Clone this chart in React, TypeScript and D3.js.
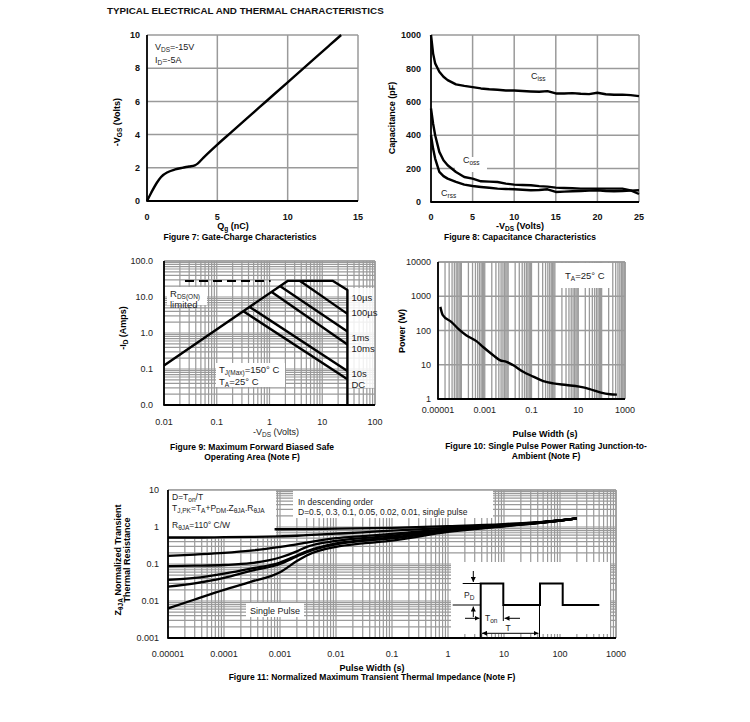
import React from "react";
import * as d3 from "d3";

const FONT = "'Liberation Sans', Arial, Helvetica, sans-serif";
const GRID = "#9a9a9a";

// ---------- Figure 7: gate charge ----------
const qgValues = [0, 0.3, 0.7, 1, 1.5, 2, 2.5, 3, 3.4, 3.6, 4, 5, 6, 7, 8, 9, 10, 11, 12, 13, 13.8];
const vgsValues = [0, 0.5, 1.1, 1.45, 1.75, 1.9, 2.0, 2.08, 2.15, 2.25, 2.6, 3.4, 4.15, 4.9, 5.65, 6.4, 7.15, 7.9, 8.65, 9.4, 10];
const f7XTicks = [0, 5, 10, 15];
const f7YTicks = [0, 2, 4, 6, 8, 10];

// ---------- Figure 8: capacitance ----------
const vdsCap = [0, 0.25, 0.5, 1, 1.5, 2, 3, 4, 5, 6, 7, 8, 9, 10, 11, 12, 13, 14, 15, 16, 17, 18, 19, 20, 21, 22, 23, 24, 25];
const cissValues = [1000, 890, 830, 780, 750, 730, 704, 695, 688, 680, 675, 672, 668, 668, 665, 662, 660, 664, 650, 650, 652, 648, 646, 654, 645, 642, 643, 640, 634];
const cossValues = [560, 470, 400, 300, 250, 220, 180, 150, 140, 124, 122, 120, 110, 104, 102, 100, 95, 92, 86, 84, 82, 80, 80, 80, 80, 80, 80, 70, 48];
const crssValues = [400, 320, 260, 180, 155, 140, 120, 104, 96, 90, 85, 80, 78, 76, 73, 70, 72, 76, 60, 62, 64, 66, 68, 70, 66, 64, 66, 68, 70];
const f8XTicks = [0, 5, 10, 15, 20, 25];
const f8YTicks = [0, 200, 400, 600, 800, 1000];

// ---------- Figure 9: SOA ----------
const soaBoundV = [0.01, 2.2, 16, 30, 30];
const soaBoundI = [0.126, 28, 28, 15.6, 0.01];
const soaDashV = [0.025, 1.05];
const soaDashI = [28, 28];
const soa100usV = [3.8, 30];
const soa100usI = [28, 3.4];
const soa1msV = [1.6, 30];
const soa1msI = [20, 1.1];
const soa10msV = [1.1, 30];
const soa10msI = [13.8, 0.48];
const soa10sV = [0.42, 30];
const soa10sI = [5.3, 0.088];
const soaDcV = [0.32, 30];
const soaDcI = [4.0, 0.052];
const soaLabels = ["10\u00b5s", "100\u00b5s", "1ms", "10ms", "10s", "DC"];
const soaLabelI = [10, 3.8, 0.77, 0.36, 0.077, 0.038];
const f9XTicks = [0.01, 0.1, 1, 10, 100];
const f9XTickLabels = ["0.01", "0.1", "1", "10", "100"];
const f9YTicks = [100, 10, 1, 0.1, 0.01];
const f9YTickLabels = ["100.0", "10.0", "1.0", "0.1", "0.0"];

// ---------- Figure 10: single pulse power ----------
const pulseWidthP = [1.26e-5, 1.6e-5, 3.7e-5, 7.2e-5, 1.6e-4, 4.4e-4, 8.5e-4, 2.3e-3, 4.4e-3, 8.5e-3, 1.6e-2, 4.4e-2, 0.12, 0.32, 0.85, 3.1, 11, 31, 85, 230, 450];
const powerW = [490, 280, 179, 114, 73, 49, 33, 19, 13.7, 12.2, 9.8, 6.25, 4.5, 3.34, 2.86, 2.56, 2.29, 1.95, 1.56, 1.37, 1.34];
const f10XTicks = [1e-5, 1e-3, 0.1, 10, 1000];
const f10XTickLabels = ["0.00001", "0.001", "0.1", "10", "1000"];
const f10YTicks = [1, 10, 100, 1000, 10000];

// ---------- Figure 11: transient thermal impedance ----------
const zthX = [1e-5, 3e-5, 1e-4, 3e-4, 1e-3, 2e-3, 3e-3, 0.01, 0.03, 0.1, 1, 10, 100, 200];
const zthD2 = [0.52, 0.52, 0.53, 0.54, 0.56, 0.58, 0.6, 0.66, 0.72, 0.8, 0.95, 1.15, 1.5, 1.72];
const zthD3 = [0.165, 0.18, 0.2, 0.23, 0.29, 0.34, 0.38, 0.5, 0.57, 0.65, 0.88, 1.12, 1.5, 1.72];
const zthD4 = [0.088, 0.09, 0.094, 0.105, 0.15, 0.22, 0.29, 0.42, 0.5, 0.58, 0.84, 1.1, 1.5, 1.72];
const zthD5 = [0.037, 0.042, 0.055, 0.075, 0.11, 0.17, 0.22, 0.36, 0.44, 0.52, 0.8, 1.08, 1.5, 1.72];
const zthD6 = [0.0244, 0.03, 0.042, 0.065, 0.1, 0.16, 0.21, 0.34, 0.42, 0.49, 0.78, 1.06, 1.5, 1.72];
const zthSingle = [0.0063, 0.011, 0.02, 0.033, 0.06, 0.12, 0.17, 0.29, 0.36, 0.43, 0.74, 1.04, 1.5, 1.72];
const zthTopX = [8e-4, 3e-3, 0.01, 0.1, 1, 10, 100, 200];
const zthTop = [0.87, 0.88, 0.9, 0.95, 1.05, 1.2, 1.52, 1.72];
const f11XTicks = [1e-5, 1e-4, 1e-3, 0.01, 0.1, 1, 10, 100, 1000];
const f11XTickLabels = ["0.00001", "0.0001", "0.001", "0.01", "0.1", "1", "10", "100", "1000"];
const f11YTicks = [10, 1, 0.1, 0.01, 0.001];
const f11YTickLabels = ["10", "1", "0.1", "0.01", "0.001"];

function logMinor(lo: number, hi: number): number[] {
  const out: number[] = [];
  const e0 = Math.round(Math.log10(lo));
  const e1 = Math.round(Math.log10(hi));
  for (let e = e0; e < e1; e++) {
    for (let k = 1; k < 10; k++) out.push(k * Math.pow(10, e));
  }
  out.push(hi);
  return out;
}

type Sc = (v: number) => number;

function pathOf(xs: Sc, ys: Sc, xv: number[], yv: number[], smooth = false): string {
  const gen = d3
    .line<[number, number]>()
    .x((d) => xs(d[0]))
    .y((d) => ys(d[1]));
  if (smooth) gen.curve(d3.curveMonotoneX);
  return gen(d3.zip(xv, yv) as [number, number][]) || "";
}

// parts: plain strings are normal text, one-element arrays are subscripts
function rich(parts: (string | string[])[], size = 6.5) {
  let inSub = false;
  return parts.map((p, i) => {
    if (Array.isArray(p)) {
      const el = (
        <tspan key={i} dy={inSub ? 0 : 2} fontSize={size}>
          {p[0]}
        </tspan>
      );
      inSub = true;
      return el;
    }
    const el = (
      <tspan key={i} dy={inSub ? -2 : 0}>
        {p}
      </tspan>
    );
    inSub = false;
    return el;
  });
}

function Frame({ x0, x1, y0, y1 }: { x0: number; x1: number; y0: number; y1: number }) {
  return (
    <g>
      <line x1={x0} x2={x1} y1={y0} y2={y0} stroke={GRID} strokeWidth={1.5} />
      <line x1={x1} x2={x1} y1={y0} y2={y1} stroke={GRID} strokeWidth={1.5} />
      <line x1={x0} x2={x0} y1={y0} y2={y1 + 0.5} stroke="#000" strokeWidth={1.8} />
      <line x1={x0 - 0.5} x2={x1} y1={y1} y2={y1} stroke="#000" strokeWidth={1.8} />
    </g>
  );
}

function Fig7() {
  const xs = d3.scaleLinear().domain([0, 15]).range([147, 358]);
  const ys = d3.scaleLinear().domain([0, 10]).range([201, 35]);
  return (
    <g>
      {f7XTicks.slice(1, -1).map((t) => (
        <line key={"gx" + t} x1={xs(t)} x2={xs(t)} y1={ys(10)} y2={ys(0)} stroke={GRID} strokeWidth={1.5} />
      ))}
      {f7YTicks.slice(1, -1).map((t) => (
        <line key={"gy" + t} x1={xs(0)} x2={xs(15)} y1={ys(t)} y2={ys(t)} stroke={GRID} strokeWidth={1.5} />
      ))}
      <Frame x0={xs(0)} x1={xs(15)} y0={ys(10)} y1={ys(0)} />
      <path d={pathOf(xs, ys, qgValues, vgsValues, true)} fill="none" stroke="#000" strokeWidth={2.4} />
      <g fontSize={9} fontWeight="bold" fill="#111">
        {f7XTicks.map((t) => (
          <text key={"tx" + t} x={xs(t)} y={219.5} textAnchor="middle">{t}</text>
        ))}
        {f7YTicks.map((t) => (
          <text key={"ty" + t} x={140} y={ys(t) + 3.2} textAnchor="end">{t}</text>
        ))}
      </g>
      <text x={155} y={50} fontSize={9} fill="#222">{rich(["V", ["DS"], "=-15V"])}</text>
      <text x={155} y={63} fontSize={9} fill="#222">{rich(["I", ["D"], "=-5A"])}</text>
      <text x={233} y={228.5} fontSize={9} fontWeight="bold" textAnchor="middle">{rich(["Q", ["g"], " (nC)"])}</text>
      <text transform="translate(120,122) rotate(-90)" fontSize={9} fontWeight="bold" textAnchor="middle">{rich(["-V", ["GS"], " (Volts)"])}</text>
      <text x={240} y={239.5} fontSize={8.5} fontWeight="bold" textAnchor="middle">Figure 7: Gate-Charge Characteristics</text>
    </g>
  );
}

function Fig8() {
  const xs = d3.scaleLinear().domain([0, 25]).range([431, 639]);
  const ys = d3.scaleLinear().domain([0, 1000]).range([202, 35]);
  return (
    <g>
      {f8XTicks.slice(1, -1).map((t) => (
        <line key={"gx" + t} x1={xs(t)} x2={xs(t)} y1={ys(1000)} y2={ys(0)} stroke={GRID} strokeWidth={1.5} />
      ))}
      {f8YTicks.slice(1, -1).map((t) => (
        <line key={"gy" + t} x1={xs(0)} x2={xs(25)} y1={ys(t)} y2={ys(t)} stroke={GRID} strokeWidth={1.5} />
      ))}
      <rect x={455} y={157} width={32} height={15} fill="#fff" />
      <Frame x0={xs(0)} x1={xs(25)} y0={ys(1000)} y1={ys(0)} />
      <path d={pathOf(xs, ys, vdsCap, cissValues)} fill="none" stroke="#000" strokeWidth={2.4} strokeLinejoin="round" />
      <path d={pathOf(xs, ys, vdsCap, cossValues)} fill="none" stroke="#000" strokeWidth={2.4} strokeLinejoin="round" />
      <path d={pathOf(xs, ys, vdsCap, crssValues)} fill="none" stroke="#000" strokeWidth={2.4} strokeLinejoin="round" />
      <g fontSize={9} fontWeight="bold" fill="#111">
        {f8XTicks.map((t) => (
          <text key={"tx" + t} x={xs(t)} y={219.5} textAnchor="middle">{t}</text>
        ))}
        {f8YTicks.map((t) => (
          <text key={"ty" + t} x={421} y={ys(t) + 3.2} textAnchor="end">{t}</text>
        ))}
      </g>
      <text x={531} y={79} fontSize={9} fill="#222">{rich(["C", ["iss"]])}</text>
      <text x={463} y={163} fontSize={9} fill="#222">{rich(["C", ["oss"]])}</text>
      <text x={441} y={196} fontSize={9} fill="#222">{rich(["C", ["rss"]])}</text>
      <text x={520} y={228.5} fontSize={9} fontWeight="bold" textAnchor="middle">{rich(["-V", ["DS"], " (Volts)"])}</text>
      <text transform="translate(395,118) rotate(-90)" fontSize={9} fontWeight="bold" textAnchor="middle">Capacitance (pF)</text>
      <text x={520} y={239.5} fontSize={8.5} fontWeight="bold" textAnchor="middle">Figure 8: Capacitance Characteristics</text>
    </g>
  );
}

function LogGrid({ xs, ys, xd, yd }: any) {
  const xv = logMinor(xd[0], xd[1]);
  const yv = logMinor(yd[0], yd[1]);
  return (
    <g>
      {xv.map((v: number, i: number) => (
        <line key={"lx" + i} x1={xs(v)} x2={xs(v)} y1={ys(yd[1])} y2={ys(yd[0])} stroke={GRID} strokeWidth={1.2} />
      ))}
      {yv.map((v: number, i: number) => (
        <line key={"ly" + i} x1={xs(xd[0])} x2={xs(xd[1])} y1={ys(v)} y2={ys(v)} stroke={GRID} strokeWidth={1.2} />
      ))}
    </g>
  );
}

function Fig9() {
  const xs = d3.scaleLog().domain([0.01, 100]).range([164, 375]);
  const ys = d3.scaleLog().domain([0.01, 100]).range([405, 261]);
  const lines: [number[], number[]][] = [
    [soa100usV, soa100usI],
    [soa1msV, soa1msI],
    [soa10msV, soa10msI],
    [soa10sV, soa10sI],
    [soaDcV, soaDcI],
  ];
  return (
    <g>
      <LogGrid xs={xs} ys={ys} xd={[0.01, 100]} yd={[0.01, 100]} />
      <rect x={167} y={287} width={40} height={18} fill="#fff" />
      <rect x={216} y={363} width={69} height={24} fill="#fff" />
      <rect x={348} y={288} width={27} height={100} fill="#fff" opacity={0.85} />
      <Frame x0={xs(0.01)} x1={xs(100)} y0={ys(100)} y1={ys(0.01)} />
      <path d={pathOf(xs, ys, soaDashV, soaDashI)} fill="none" stroke="#000" strokeWidth={2} strokeDasharray="9,5" />
      <path d={pathOf(xs, ys, soaBoundV, soaBoundI)} fill="none" stroke="#000" strokeWidth={2.4} strokeLinejoin="round" />
      {lines.map(([v, i], k) => (
        <path key={"soa" + k} d={pathOf(xs, ys, v, i)} fill="none" stroke="#000" strokeWidth={2.4} />
      ))}
      <g fontSize={9.5} fill="#222">
        {soaLabels.map((l, k) => (
          <text key={"sl" + k} x={xs(30) + 4} y={ys(soaLabelI[k]) + 3.5}>{l}</text>
        ))}
        <text x={170} y={297}>{rich(["R", ["DS(ON)"]])}</text>
        <text x={170} y={308}>limited</text>
        <text x={219} y={373}>{rich(["T", ["J(Max)"], "=150° C"])}</text>
        <text x={219} y={385}>{rich(["T", ["A"], "=25° C"])}</text>
      </g>
      <g fontSize={9} fill="#222">
        {f9XTicks.map((t, k) => (
          <text key={"tx" + k} x={xs(t)} y={425} textAnchor="middle">{f9XTickLabels[k]}</text>
        ))}
        {f9YTicks.map((t, k) => (
          <text key={"ty" + k} x={153} y={ys(t) + 3.2} textAnchor="end">{f9YTickLabels[k]}</text>
        ))}
      </g>
      <text x={276} y={435} fontSize={9} fill="#222" textAnchor="middle">{rich(["-V", ["DS"], " (Volts)"])}</text>
      <text transform="translate(126,328) rotate(-90)" fontSize={9} fontWeight="bold" textAnchor="middle">{rich(["-I", ["D"], " (Amps)"])}</text>
      <text x={252} y={450} fontSize={8.5} fontWeight="bold" textAnchor="middle">Figure 9: Maximum Forward Biased Safe</text>
      <text x={252} y={460} fontSize={8.5} fontWeight="bold" textAnchor="middle">Operating Area (Note F)</text>
    </g>
  );
}

function Fig10() {
  const xs = d3.scaleLog().domain([1e-5, 1000]).range([438, 625]);
  const ys = d3.scaleLog().domain([1, 10000]).range([399, 262]);
  const xv = logMinor(1e-5, 1000);
  return (
    <g>
      {xv.map((v, i) => (
        <line key={"gx" + i} x1={xs(v)} x2={xs(v)} y1={ys(10000)} y2={ys(1)} stroke={GRID} strokeWidth={1.3} />
      ))}
      {f10YTicks.map((v, i) => (
        <line key={"gy" + i} x1={xs(1e-5)} x2={xs(1000)} y1={ys(v)} y2={ys(v)} stroke={GRID} strokeWidth={1.3} />
      ))}
      <rect x={560} y={263} width={52} height={25} fill="#fff" />
      <Frame x0={xs(1e-5)} x1={xs(1000)} y0={ys(10000)} y1={ys(1)} />
      <path d={pathOf(xs, ys, pulseWidthP, powerW, true)} fill="none" stroke="#000" strokeWidth={2.4} />
      <text x={565} y={279} fontSize={9.5} fill="#222">{rich(["T", ["A"], "=25° C"])}</text>
      <g fontSize={9} fill="#222">
        {f10XTicks.map((t, k) => (
          <text key={"tx" + k} x={xs(t)} y={413} textAnchor="middle">{f10XTickLabels[k]}</text>
        ))}
        {f10YTicks.map((t, k) => (
          <text key={"ty" + k} x={431} y={ys(t) + 3.2} textAnchor="end">{t}</text>
        ))}
      </g>
      <text x={545} y={437} fontSize={9} fontWeight="bold" textAnchor="middle">Pulse Width (s)</text>
      <text transform="translate(405,331) rotate(-90)" fontSize={9} fontWeight="bold" textAnchor="middle">Power (W)</text>
      <text x={546} y={449} fontSize={8.5} fontWeight="bold" textAnchor="middle">Figure 10: Single Pulse Power Rating Junction-to-</text>
      <text x={546} y={459} fontSize={8.5} fontWeight="bold" textAnchor="middle">Ambient (Note F)</text>
    </g>
  );
}

function PulseInset() {
  const hi = 583.5, lo = 605, ax = 638;
  const p1a = 480.7, p1b = 503.3, p2a = 540, p2b = 562.7, end = 599.3;
  const thick = { stroke: "#000", strokeWidth: 2, fill: "none" } as const;
  const thin = { stroke: "#000", strokeWidth: 1, fill: "none" } as const;
  return (
    <g>
      <defs>
        <marker id="arr" viewBox="0 0 6 6" refX="6" refY="3" markerWidth="5" markerHeight="5" orient="auto-start-reverse">
          <path d="M0,0 L6,3 L0,6 z" fill="#000" />
        </marker>
      </defs>
      <rect x={451} y={562} width={159} height={72} fill="#fff" />
      <path d={`M${p1a},${ax} V${hi} H${p1b} V${lo} H${p2a} V${hi} H${p2b} V${lo} H${end}`} {...thick} />
      <line x1={p2a - 0.5} x2={p2a - 0.5} y1={ax} y2={lo} {...thin} />
      <line x1={p1b} x2={p1b} y1={lo} y2={621} {...thin} />
      <line x1={452.7} x2={p1a} y1={lo} y2={lo} {...thin} />
      <line x1={462.7} x2={p1a} y1={hi} y2={hi} {...thin} />
      <line x1={473.3} x2={473.3} y1={571} y2={582} {...thin} markerEnd="url(#arr)" />
      <line x1={473.3} x2={473.3} y1={617} y2={606.5} {...thin} markerEnd="url(#arr)" />
      <line x1={465} x2={479.5} y1={618.3} y2={618.3} {...thin} markerEnd="url(#arr)" />
      <line x1={520} x2={504.5} y1={618.3} y2={618.3} {...thin} markerEnd="url(#arr)" />
      <line x1={482} x2={538.5} y1={633.3} y2={633.3} {...thin} markerStart="url(#arr)" markerEnd="url(#arr)" />
      <text x={464} y={598} fontSize={8.5} fill="#222">{rich(["P", ["D"]])}</text>
      <text x={485} y={621} fontSize={8.5} fill="#222">{rich(["T", ["on"]])}</text>
      <text x={508} y={631} fontSize={8.5} fill="#222" textAnchor="middle">T</text>
    </g>
  );
}

function Fig11() {
  const xs = d3.scaleLog().domain([1e-5, 1000]).range([168, 616]);
  const ys = d3.scaleLog().domain([0.001, 10]).range([638, 490]);
  const curves = [zthD2, zthD3, zthD4, zthD5, zthD6, zthSingle];
  return (
    <g>
      <LogGrid xs={xs} ys={ys} xd={[1e-5, 1000]} yd={[0.001, 10]} />
      <rect x={168} y={490} width={108} height={47} fill="#fff" />
      <rect x={293} y={490} width={200} height={28} fill="#fff" />
      <rect x={246} y={603} width={58} height={14} fill="#fff" />
      <PulseInset />
      <Frame x0={xs(1e-5)} x1={xs(1000)} y0={ys(10)} y1={ys(0.001)} />
      <path d={pathOf(xs, ys, zthTopX, zthTop, true)} fill="none" stroke="#000" strokeWidth={2.3} />
      {curves.map((c, k) => (
        <path key={"z" + k} d={pathOf(xs, ys, zthX, c, true)} fill="none" stroke="#000" strokeWidth={2.3} />
      ))}
      <g fontSize={8.5} fill="#222">
        <text x={172} y={500}>{rich(["D=T", ["on"], "/T"])}</text>
        <text x={172} y={511}>{rich(["T", ["J,PK"], "=T", ["A"], "+P", ["DM"], ".Z", ["θJA"], ".R", ["θJA"]])}</text>
        <text x={172} y={528}>{rich(["R", ["θJA"], "=110° C/W"])}</text>
        <text x={298} y={504.5}>In descending order</text>
        <text x={298} y={514.5}>D=0.5, 0.3, 0.1, 0.05, 0.02, 0.01, single pulse</text>
        <text x={250} y={613.5} fontSize={9}>Single Pulse</text>
      </g>
      <g fontSize={9} fill="#222">
        {f11XTicks.map((t, k) => (
          <text key={"tx" + k} x={xs(t)} y={656.5} textAnchor="middle">{f11XTickLabels[k]}</text>
        ))}
        {f11YTicks.map((t, k) => (
          <text key={"ty" + k} x={159} y={ys(t) + 3.2} textAnchor="end">{f11YTickLabels[k]}</text>
        ))}
      </g>
      <text x={372} y={670.5} fontSize={9} fontWeight="bold" textAnchor="middle">Pulse Width (s)</text>
      <text transform="translate(121,560) rotate(-90)" fontSize={9} fontWeight="bold" textAnchor="middle">{rich(["Z", ["θJA"], " Normalized Transient"])}</text>
      <text transform="translate(130,560) rotate(-90)" fontSize={9} fontWeight="bold" textAnchor="middle">Thermal Resistance</text>
      <text x={372} y={680} fontSize={8.5} fontWeight="bold" textAnchor="middle">Figure 11: Normalized Maximum Transient Thermal Impedance (Note F)</text>
    </g>
  );
}

export default function App() {
  return (
    <svg width={750} height={722} viewBox="0 0 750 722" style={{ position: "absolute", left: 0, top: 0, background: "#fff" }} fontFamily={FONT}>
      <rect x={0} y={0} width={750} height={722} fill="#fff" />
      <text x={107} y={14} fontSize={9.8} fontWeight="bold" fill="#111">TYPICAL ELECTRICAL AND THERMAL CHARACTERISTICS</text>
      <Fig7 />
      <Fig8 />
      <Fig9 />
      <Fig10 />
      <Fig11 />
    </svg>
  );
}
